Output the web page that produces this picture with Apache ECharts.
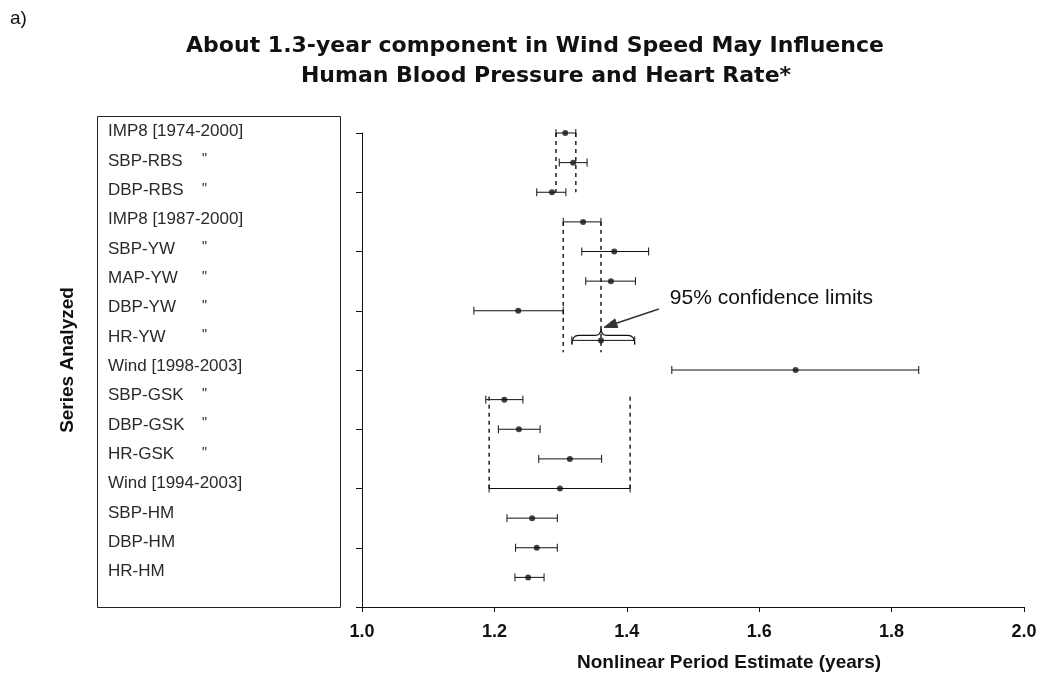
<!DOCTYPE html>
<html><head><meta charset="utf-8">
<script src="https://cdn.jsdelivr.net/npm/echarts@6/dist/echarts.min.js"></script>
<style>html,body{margin:0;padding:0;background:#fff}#c{width:1041px;height:687px}</style>
</head><body><div id="c"></div>
<script>
const seriesNames = ['IMP8 [1974-2000]','SBP-RBS','DBP-RBS','IMP8 [1987-2000]','SBP-YW','MAP-YW','DBP-YW','HR-YW','Wind [1998-2003]','SBP-GSK','DBP-GSK','HR-GSK','Wind [1994-2003]','SBP-HM','DBP-HM','HR-HM'];
const dittoMarks = ['', '"', '"', '', '"', '"', '"', '"', '', '"', '"', '"', '', '', '', ''];
const periodEstimate = [1.307,1.319,1.287,1.334,1.381,1.376,1.236,1.361,1.655,1.215,1.237,1.314,1.299,1.257,1.264,1.251];
const lowerLimit     = [1.293,1.298,1.264,1.304,1.332,1.338,1.169,1.317,1.468,1.187,1.206,1.267,1.192,1.219,1.232,1.231];
const upperLimit     = [1.323,1.340,1.308,1.361,1.433,1.413,1.304,1.412,1.841,1.243,1.269,1.362,1.405,1.295,1.295,1.275];
// dashed reference lines: limits of a reference row extended over a span of rows
const refRow  = [0, 3, 12];
const refFrom = [0, 3, 8.9];
const refTo   = [2, 7.4, 12];
const noteText = '95% confidence limits';
const noteRow = 7;
const notePos = [1.465, 5.57];

const chart = echarts.init(document.getElementById('c'));
const black = '#111';

const errData = seriesNames.map((n, i) => [lowerLimit[i], upperLimit[i], i]);
const ptData = seriesNames.map((n, i) => [periodEstimate[i], i]);
const refData = refRow.map((r, k) => [lowerLimit[r], upperLimit[r], refFrom[k], refTo[k]]);
const noteData = [[lowerLimit[noteRow], upperLimit[noteRow], periodEstimate[noteRow], noteRow, notePos[0], notePos[1]]];

chart.setOption({
  animation: false,
  backgroundColor: '#fff',
  graphic: [
    {type: 'text', left: 10, top: 9, style: {text: 'a)', font: '19px "Liberation Sans"', fill: black}},
    {type: 'text', x: 535, y: 46, style: {text: 'About 1.3-year component in Wind Speed May Influence', font: 'bold 22px "DejaVu Sans"', fill: black, align: 'center', verticalAlign: 'middle'}},
    {type: 'text', x: 546, y: 76, style: {text: 'Human Blood Pressure and Heart Rate*', font: 'bold 22px "DejaVu Sans"', fill: black, align: 'center', verticalAlign: 'middle'}},
    {type: 'rect', shape: {x: 97.5, y: 116.5, width: 243, height: 491}, style: {fill: 'none', stroke: '#222', lineWidth: 1}}
  ],
  grid: [
    {left: 362, right: 17, top: 133, bottom: 80},
    {left: 108, width: 200, top: 131.7, bottom: 115.3}
  ],
  xAxis: [
    {type: 'value', gridIndex: 0, min: 1, max: 2, interval: 0.2,
     axisLine: {onZero: false, lineStyle: {color: black, width: 1}},
     axisTick: {length: 5, lineStyle: {color: black}},
     splitLine: {show: false},
     axisLabel: {formatter: v => v.toFixed(1), color: black, fontFamily: 'Liberation Sans', fontWeight: 'bold', fontSize: 18, margin: 16},
     name: 'Nonlinear Period Estimate (years)', nameLocation: 'middle', nameGap: 46,
     nameTextStyle: {color: black, fontFamily: 'Liberation Sans', fontWeight: 'bold', fontSize: 19, padding: [0, 0, 0, 72]}},
    {type: 'value', gridIndex: 1, show: false, min: 0, max: 1}
  ],
  yAxis: [
    {type: 'value', gridIndex: 0, inverse: true, min: 0, max: 16, interval: 2,
     axisLine: {show: true, onZero: false, lineStyle: {color: black, width: 1}},
     axisTick: {show: true, length: 6, lineStyle: {color: black}},
     axisLabel: {show: false}, splitLine: {show: false},
     name: 'Series Analyzed', nameLocation: 'middle', nameGap: 285, nameRotate: 90,
     nameTextStyle: {color: black, fontFamily: 'Liberation Sans', fontWeight: 'bold', fontSize: 19, padding: [0, 0, 0, 20]}},
    {type: 'value', gridIndex: 1, inverse: true, min: 0, max: 15, interval: 1,
     axisLine: {show: false}, axisTick: {show: false}, splitLine: {show: false},
     axisLabel: {
       align: 'left', margin: 0,
       formatter: v => {
         const i = Math.round(v);
         return dittoMarks[i] ? '{n|' + seriesNames[i] + '}{d|' + dittoMarks[i] + '}' : '{m|' + seriesNames[i] + '}';
       },
       rich: {
         m: {fontFamily: 'Liberation Sans', fontSize: 17, color: '#2a2a2a'},
         n: {fontFamily: 'Liberation Sans', fontSize: 17, color: '#2a2a2a', width: 94},
         d: {fontFamily: 'Liberation Sans', fontSize: 14, color: '#2a2a2a', verticalAlign: 'top'}
       }
     }}
  ],
  series: [
    {type: 'custom', xAxisIndex: 0, yAxisIndex: 0, data: refData, silent: true,
     encode: {x: [0, 1], y: [2, 3]},
     renderItem: (params, api) => {
       const a1 = api.coord([api.value(0), api.value(2)]);
       const a2 = api.coord([api.value(0), api.value(3)]);
       const b1 = api.coord([api.value(1), api.value(2)]);
       const b2 = api.coord([api.value(1), api.value(3)]);
       const st = {stroke: '#222', lineWidth: 1.5, lineDash: [4, 4]};
       return {type: 'group', children: [
         {type: 'line', shape: {x1: a1[0], y1: a1[1], x2: a2[0], y2: a2[1]}, style: st},
         {type: 'line', shape: {x1: b1[0], y1: b1[1], x2: b2[0], y2: b2[1]}, style: st}
       ]};
     }},
    {type: 'custom', xAxisIndex: 0, yAxisIndex: 0, data: errData, silent: true,
     encode: {x: [0, 1], y: 2},
     renderItem: (params, api) => {
       const y = api.value(2);
       const lo = api.coord([api.value(0), y]);
       const hi = api.coord([api.value(1), y]);
       const cap = 4;
       const st = {stroke: black, lineWidth: 1};
       return {type: 'group', children: [
         {type: 'line', shape: {x1: lo[0], y1: lo[1], x2: hi[0], y2: hi[1]}, style: st},
         {type: 'line', shape: {x1: lo[0], y1: lo[1] - cap, x2: lo[0], y2: lo[1] + cap}, style: st},
         {type: 'line', shape: {x1: hi[0], y1: hi[1] - cap, x2: hi[0], y2: hi[1] + cap}, style: st}
       ]};
     }},
    {type: 'scatter', xAxisIndex: 0, yAxisIndex: 0, data: ptData, symbol: 'circle', symbolSize: 6,
     itemStyle: {color: black}, silent: true},
    {type: 'custom', xAxisIndex: 0, yAxisIndex: 0, data: noteData, silent: true,
     encode: {x: [0, 1], y: 3},
     renderItem: (params, api) => {
       const row = api.value(3);
       const lo = api.coord([api.value(0), row]);
       const hi = api.coord([api.value(1), row]);
       const mid = api.coord([api.value(2), row]);
       const tp = api.coord([api.value(4), api.value(5)]);
       const by = lo[1];
       const y0 = by - 5;
       const path = 'M' + lo[0] + ' ' + (by + 4) + ' Q' + lo[0] + ' ' + y0 + ' ' + (lo[0] + 7) + ' ' + y0 +
         ' L' + (mid[0] - 6) + ' ' + y0 + ' Q' + mid[0] + ' ' + y0 + ' ' + mid[0] + ' ' + (y0 - 7) +
         ' Q' + mid[0] + ' ' + y0 + ' ' + (mid[0] + 6) + ' ' + y0 +
         ' L' + (hi[0] - 7) + ' ' + y0 + ' Q' + hi[0] + ' ' + y0 + ' ' + hi[0] + ' ' + (by + 4);
       const tip = [mid[0] + 3, y0 - 8];
       const start = [tp[0] - 11, tp[1] + 11];
       const dx = tip[0] - start[0], dy = tip[1] - start[1];
       const len = Math.sqrt(dx * dx + dy * dy);
       const ux = dx / len, uy = dy / len, nx = -uy, ny = ux;
       const L = 13, W = 4.5;
       const head = [tip,
         [tip[0] - ux * L + nx * W, tip[1] - uy * L + ny * W],
         [tip[0] - ux * L - nx * W, tip[1] - uy * L - ny * W]];
       return {type: 'group', children: [
         {type: 'path', shape: {pathData: path}, style: {fill: 'none', stroke: black, lineWidth: 1.2}},
         {type: 'line', shape: {x1: start[0], y1: start[1], x2: tip[0] - ux * L, y2: tip[1] - uy * L}, style: {stroke: '#333', lineWidth: 1.5}},
         {type: 'polygon', shape: {points: head}, style: {fill: '#333', stroke: '#333', lineWidth: 1}},
         {type: 'text', x: tp[0], y: tp[1], style: {text: noteText, font: '21px "Liberation Sans"', fill: black, align: 'left', verticalAlign: 'middle'}}
       ]};
     }}
  ]
});
</script>
</body></html>
